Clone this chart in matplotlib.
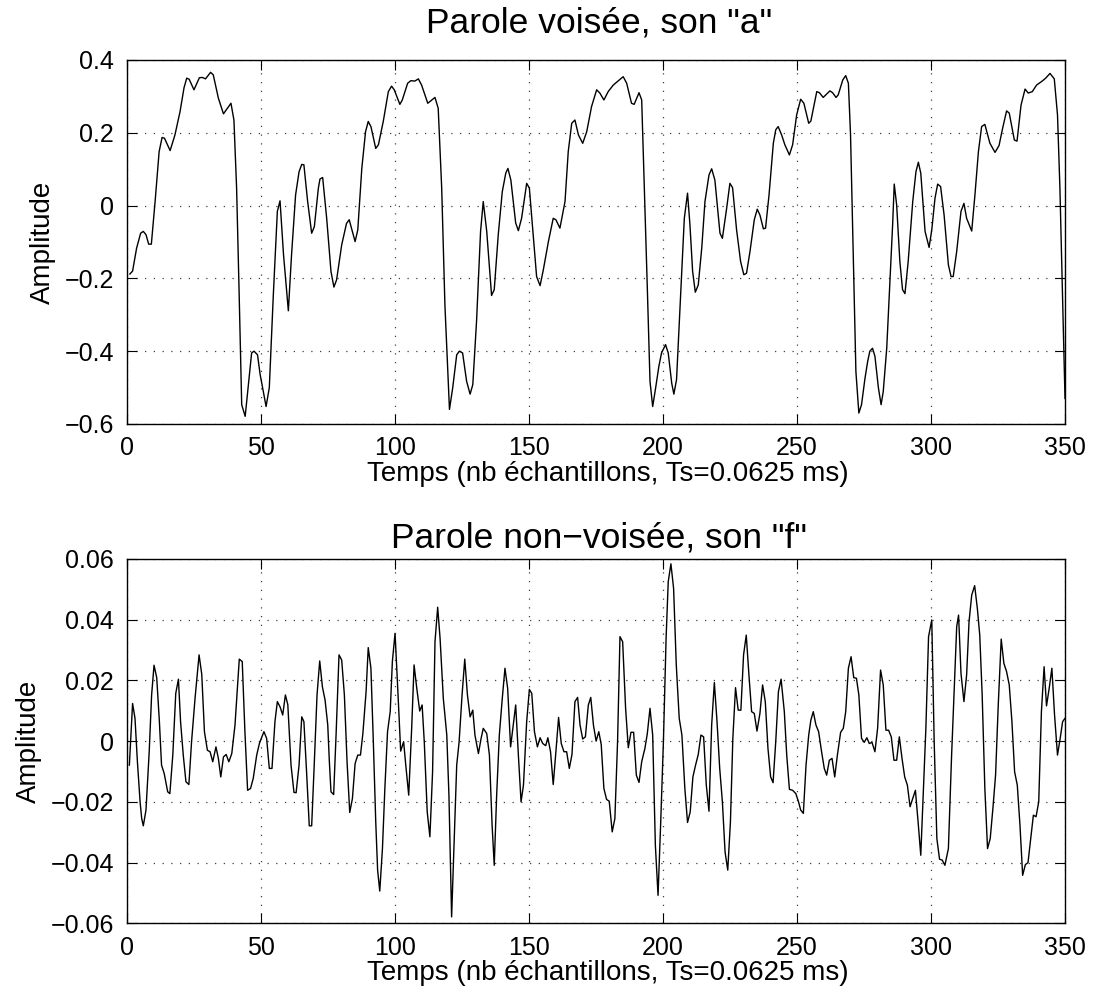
import matplotlib
matplotlib.use("Agg")
import matplotlib.pyplot as plt
from matplotlib.ticker import FixedLocator, FuncFormatter

plt.rcParams['font.family'] = ['Liberation Sans', 'DejaVu Sans']

# ---- Data: voiced "a" ----
t_voiced = [1.2, 2.2, 3.7, 5.2, 6.2, 7.2, 8.2, 9.2, 10.6, 12.1, 13.2, 14.1, 16.2, 18, 19.9, 21.4, 22.4, 23.3,
            25.1, 27.1, 28.2, 29.4, 31.3, 32.3, 34.2, 36.1, 38.9, 40, 41, 41.9, 42.9, 44.2, 45.4, 46.6, 47.5,
            48.8, 49.8, 52, 53.2, 54.7, 56.2, 57.2, 58.5, 60.3, 61.5, 63, 64.3, 65.3, 66.1, 67.5, 69, 70,
            71.5, 72.1, 73.1, 74.6, 76.2, 77.3, 78.3, 80.2, 82, 83, 85.2, 86.2, 87.7, 89.1, 90.1, 91.1, 92.9,
            93.9, 95.7, 97.6, 98.8, 99.8, 101.9, 102.8, 104.8, 106, 107.5, 108.8, 110, 112.3, 115, 116.2,
            117.5, 118.7, 120.4, 121.6, 123.1, 124.1, 125.3, 126.8, 128.1, 129.1, 130.5, 132, 133, 134.3,
            136.1, 137.1, 138.6, 140.1, 141.4, 142.2, 143.3, 145.1, 146.1, 147.3, 149.2, 150.2, 151.7, 152.9,
            154.2, 155.4, 157.3, 159.1, 160.1, 161.6, 163.5, 164.7, 166, 167.2, 168.5, 170.1, 171.6, 173.4,
            175.3, 176.5, 178, 179.6, 181.5, 185.2, 186.5, 188.3, 189.3, 191.1, 192.1, 193.1, 194.2, 195.2,
            196.2, 197.3, 198.5, 199.5, 201, 202, 203.3, 204.1, 205.1, 206.4, 208, 209.2, 210.1, 211.1,
            212.1, 213.2, 214.5, 215.7, 217.2, 218.2, 219.4, 221.3, 222.2, 223.8, 225, 226, 227.5, 229,
            230.2, 231.2, 232.5, 234.1, 235.2, 236.2, 237.5, 238.3, 239.6, 241.2, 242.1, 243, 244.3, 245.5,
            247.2, 248.4, 249.9, 251.4, 252.6, 254.4, 255.2, 257.4, 258.4, 259.8, 262.3, 263.3, 264.6, 265.4,
            267.1, 268.2, 269.2, 270, 271, 272, 273.1, 274.1, 275.4, 276.4, 277.2, 278.2, 279.1, 280.4,
            281.4, 282.2, 283.5, 284.7, 285.7, 286.3, 287.2, 288.4, 289.4, 290.3, 291.5, 293.2, 294.4,
            295.3, 296.2, 297.8, 299.3, 300.3, 301.5, 302.5, 303.6, 304.9, 306.5, 307.5, 308.3, 309.6,
            311.2, 312.3, 313.3, 315.2, 316.4, 317.7, 318.9, 320.1, 322, 323.9, 325.4, 326.6, 328.2, 329.2,
            331.1, 332.1, 333.6, 335.1, 336.3, 337.8, 339.4, 341.5, 342.8, 344.4, 346, 347.2, 348.1, 349, 350]
a_voiced = [-0.188, -0.18, -0.117, -0.076, -0.071, -0.08, -0.106, -0.106, 0.011, 0.148, 0.187, 0.185, 0.151,
            0.194, 0.258, 0.324, 0.35, 0.347, 0.318, 0.351, 0.352, 0.348, 0.366, 0.359, 0.295, 0.252, 0.281,
            0.235, 0.048, -0.227, -0.547, -0.579, -0.492, -0.405, -0.40, -0.41, -0.465, -0.552, -0.50,
            -0.245, -0.016, 0.013, -0.135, -0.289, -0.135, 0.029, 0.093, 0.113, 0.112, 0.011, -0.076,
            -0.058, 0.048, 0.073, 0.077, -0.035, -0.181, -0.224, -0.204, -0.108, -0.049, -0.039, -0.099,
            -0.067, 0.102, 0.203, 0.231, 0.217, 0.157, 0.167, 0.231, 0.313, 0.328, 0.318, 0.278, 0.29, 0.336,
            0.343, 0.342, 0.348, 0.331, 0.281, 0.297, 0.267, 0.048, -0.273, -0.56, -0.501, -0.41, -0.40,
            -0.405, -0.483, -0.518, -0.492, -0.318, -0.071, 0.011, -0.071, -0.247, -0.231, -0.08, 0.038,
            0.089, 0.102, 0.07, -0.048, -0.069, -0.035, 0.061, 0.048, -0.085, -0.195, -0.22, -0.177, -0.099,
            -0.035, -0.039, -0.062, 0.011, 0.148, 0.226, 0.235, 0.194, 0.171, 0.203, 0.272, 0.318, 0.309,
            0.29, 0.313, 0.331, 0.354, 0.336, 0.281, 0.278, 0.31, 0.29, 0.048, -0.227, -0.483, -0.552,
            -0.501, -0.442, -0.405, -0.382, -0.405, -0.488, -0.518, -0.478, -0.282, -0.035, 0.034, -0.053,
            -0.181, -0.238, -0.218, -0.117, 0.011, 0.084, 0.101, 0.07, -0.076, -0.09, -0.007, 0.061, 0.049,
            -0.067, -0.154, -0.19, -0.186, -0.126, -0.039, -0.01, -0.026, -0.064, -0.062, 0.029, 0.171,
            0.208, 0.217, 0.194, 0.167, 0.139, 0.167, 0.249, 0.292, 0.281, 0.226, 0.232, 0.313, 0.31, 0.297,
            0.315, 0.31, 0.297, 0.304, 0.345, 0.357, 0.336, 0.194, -0.135, -0.456, -0.57, -0.547, -0.474,
            -0.428, -0.40, -0.392, -0.414, -0.501, -0.547, -0.511, -0.392, -0.209, -0.053, 0.059, 0.002,
            -0.154, -0.231, -0.242, -0.154, 0.011, 0.093, 0.119, 0.089, -0.071, -0.115, -0.067, 0.02, 0.059,
            0.052, -0.026, -0.163, -0.195, -0.195, -0.126, -0.016, 0.006, -0.035, -0.07, 0.029, 0.148,
            0.217, 0.223, 0.171, 0.146, 0.165, 0.208, 0.26, 0.254, 0.18, 0.177, 0.276, 0.32, 0.309, 0.313,
            0.331, 0.342, 0.35, 0.363, 0.348, 0.249, 0.048, -0.227, -0.53]

# ---- Data: unvoiced "f" ----
t_unvoiced = [1, 2.2, 3.1, 4, 5, 5.6, 6.2, 7.2, 8.4, 9.3, 10.2, 11.2, 12.2, 13, 14, 15.3, 16.1, 17.2, 18.3,
              19.3, 20.1, 21.1, 22.1, 23.2, 24.2, 25.5, 27, 28, 29, 30.1, 31.1, 32.1, 33.3, 34.2, 35.1, 36.1,
              37.1, 38.1, 39.2, 40.4, 42, 43.1, 44.1, 45.1, 46.2, 47.2, 48.5, 49.5, 50.3, 51.2, 52.2, 53.2,
              54.2, 55.3, 56.2, 57.2, 58.2, 59.2, 60.1, 61.3, 62.4, 63.2, 64.3, 65.3, 66.1, 67.1, 68.1, 69,
              70, 71, 72, 73, 74, 75, 75.6, 76.2, 77.2, 78.1, 79.2, 80.2, 81.2, 82.2, 83.2, 84.2, 85.2, 86.2,
              87.2, 88.1, 89.3, 90.1, 91.1, 92, 92.9, 93.6, 94.4, 95.4, 96.3, 97.3, 98.3, 99.1, 100.1, 101.1,
              102.2, 103.3, 104.1, 105.2, 106.3, 107.2, 108.2, 109.3, 110.2, 111, 112.1, 113.1, 114.1, 115,
              116, 116.9, 118.1, 119.4, 120.2, 121.2, 122.1, 123.1, 124, 125.1, 126.1, 127.1, 128.1, 129.1,
              129.9, 131.2, 132.2, 133, 134.3, 135.3, 136.3, 137.1, 138, 139, 140.1, 141.1, 142.1, 143.2,
              144.2, 145.1, 146.1, 147.1, 148, 149.2, 150.2, 151.1, 152.1, 153.2, 154.2, 155.2, 156.3, 157.1,
              158.1, 159.1, 160.1, 161.1, 162.1, 163.1, 164.1, 165.1, 166.1, 167.2, 168.2, 169.1, 170.1,
              171.1, 172.2, 173.1, 174.1, 175.1, 176.1, 177, 178, 179, 180, 181.1, 182.1, 183.1, 184, 185,
              186.1, 187.1, 188.1, 189.1, 190.1, 191.1, 192.1, 193.3, 194.2, 195.2, 196.2, 197.2, 198.2,
              199.2, 200.2, 201.2, 202, 203, 204, 205, 206.1, 207.1, 208.2, 209.2, 210.2, 211.2, 212.2, 213.2,
              214.2, 215.2, 216.2, 217.2, 218.2, 219.2, 220.2, 221.2, 222.2, 223.2, 224.2, 225.2, 226.1,
              227.1, 228.1, 229.1, 230.1, 231.1, 232.1, 233.1, 234.1, 235.1, 236.2, 237.2, 238.2, 239.2,
              240.2, 241.1, 242.1, 243.1, 244.1, 245.3, 246.2, 247.2, 248.4, 249.6, 250.6, 251.4, 252.4,
              253.4, 254.4, 255.2, 256.1, 257.1, 258.1, 259.2, 260.2, 261.1, 262.1, 263.1, 264.1, 265.1,
              266.3, 267.3, 268.2, 269.2, 270.2, 271.2, 272.2, 273.1, 274.1, 275.1, 276.1, 277, 278, 279.1,
              280.1, 281.2, 282.2, 283.2, 284.2, 285.2, 286.2, 287.2, 288.2, 289.2, 290.2, 291.2, 292.2,
              293.2, 294.2, 295.2, 296.2, 297.1, 298.1, 299.1, 300.3, 301.2, 302.2, 303.2, 304.2, 305.2,
              306.5, 307.7, 308.7, 309.6, 310.3, 311.2, 312.3, 313.3, 314.2, 315.2, 316.3, 317.3, 318.2,
              319.1, 320.1, 321.1, 322.1, 323.1, 324.1, 325.1, 326.2, 327.2, 328.2, 329.2, 330.2, 331.2,
              332.2, 333.2, 334.2, 335.2, 336.2, 337.2, 338.2, 339.2, 340.2, 341.2, 342.2, 343.1, 344.1,
              345.1, 346.1, 347.2, 348.2, 349.1, 350]
a_unvoiced = [-0.0079, 0.0124, 0.0075, -0.0068, -0.02, -0.0255, -0.0279, -0.0227, -0.0035, 0.0152, 0.025,
              0.0209, 0.0064, -0.0079, -0.0107, -0.0167, -0.0173, -0.0046, 0.0157, 0.0204, 0.0064, -0.0046,
              -0.0134, -0.0143, -0.0002, 0.0141, 0.0284, 0.022, 0.0031, -0.003, -0.0035, -0.0068, -0.0019,
              -0.0057, -0.0118, -0.0052, -0.0044, -0.0068, -0.0041, 0.0053, 0.027, 0.0262, 0.0031, -0.0162,
              -0.0156, -0.0123, -0.0046, -0.0008, 0.0011, 0.0031, 0.0009, -0.009, -0.009, 0.0064, 0.013,
              0.0113, 0.0086, 0.0152, 0.012, -0.0079, -0.0169, -0.017, -0.0079, 0.008, 0.0064, -0.0101,
              -0.0279, -0.0279, -0.0068, 0.0152, 0.0264, 0.0179, 0.0135, 0.0053, -0.0068, -0.0167, -0.0176,
              0.002, 0.0284, 0.0267, 0.0152, -0.0068, -0.0235, -0.0189, -0.0074, -0.0046, -0.0046, 0.0025,
              0.0163, 0.0308, 0.024, -0.0002, -0.0266, -0.0425, -0.0494, -0.0354, -0.0156, 0.0031, 0.0097,
              0.0262, 0.0355, 0.0174, -0.0033, -0.0002, -0.0079, -0.0178, 0.0042, 0.0251, 0.0174, 0.0099,
              0.0119, -0.0002, -0.0233, -0.0315, -0.0101, 0.0327, 0.0441, 0.0338, 0.0141, 0.002, -0.0178,
              -0.0579, -0.0343, -0.0079, -0.0002, 0.0152, 0.027, 0.0152, 0.008, 0.0102, 0.002, -0.0041,
              0.0009, 0.0042, 0.0025, -0.0046, -0.0277, -0.0409, -0.0178, 0.002, 0.0141, 0.024, 0.0174,
              -0.0019, 0.0053, 0.0119, -0.0046, -0.02, -0.0145, 0.0064, 0.017, 0.0157, 0.0031, -0.0019,
              0.0011, -0.0008, -0.0015, 0.0011, -0.0035, -0.0143, -0.0035, 0.0078, -0.0008, -0.0035, -0.0035,
              -0.009, -0.0044, 0.013, 0.0144, 0.0053, 0.0007, 0.0014, 0.0119, 0.0144, 0.0053, 0.0, 0.0031,
              -0.0011, -0.0156, -0.0192, -0.0198, -0.0299, -0.0255, -0.0002, 0.0344, 0.0327, 0.0108, -0.0022,
              0.0029, 0.0029, -0.0112, -0.0136, -0.0068, -0.0024, 0.0025, 0.0108, 0.002, -0.0343, -0.0508,
              -0.0266, -0.0002, 0.0338, 0.0525, 0.0584, 0.0503, 0.0251, 0.0075, 0.002, -0.0156, -0.0268,
              -0.0233, -0.0118, -0.0079, -0.0044, 0.002, 0.0014, -0.0145, -0.0231, 0.0053, 0.0193, 0.0064,
              -0.009, -0.02, -0.0365, -0.0425, -0.0266, 0.0009, 0.0176, 0.0102, 0.0102, 0.0284, 0.0349,
              0.0218, 0.0097, 0.0091, 0.0033, 0.0091, 0.0185, 0.013, -0.0024, -0.0118, -0.0137, -0.0002,
              0.0163, 0.0204, 0.0097, -0.0046, -0.0159, -0.0162, -0.0173, -0.02, -0.0227, -0.0238, -0.0079,
              0.002, 0.0069, 0.0097, 0.0053, 0.0031, -0.0035, -0.009, -0.0112, -0.0063, -0.0057, -0.0118,
              -0.0046, 0.0029, 0.0042, 0.0097, 0.024, 0.0278, 0.0209, 0.0207, 0.0152, 0.0009, -0.0004,
              0.0011, -0.0008, -0.0004, -0.0035, 0.0042, 0.0234, 0.0185, 0.0036, 0.0036, 0.0014, -0.0063,
              -0.0063, 0.0014, -0.0057, -0.0118, -0.0145, -0.0216, -0.0189, -0.0162, -0.0266, -0.0376,
              -0.0178, 0.0042, 0.0344, 0.0399, -0.0002, -0.0321, -0.0389, -0.0392, -0.0409, -0.0354, -0.0046,
              0.0174, 0.0377, 0.0415, 0.0223, 0.013, 0.0218, 0.0393, 0.0481, 0.0512, 0.0437, 0.0349, 0.0152,
              -0.0156, -0.0354, -0.0321, -0.0222, -0.0112, 0.0119, 0.0336, 0.0256, 0.0229, 0.0185, 0.0064,
              -0.0101, -0.0145, -0.0277, -0.0442, -0.0407, -0.04, -0.0321, -0.0244, -0.0249, -0.02, 0.0097,
              0.0245, 0.0116, 0.0174, 0.024, 0.0086, -0.0046, 0.0009, 0.0064, 0.0075]

x_ticks = [0, 50, 100, 150, 200, 250, 300, 350]
y_ticks_top = [-0.6, -0.4, -0.2, 0, 0.2, 0.4]
y_ticks_bottom = [-0.06, -0.04, -0.02, 0, 0.02, 0.04, 0.06]

title_top = 'Parole voisée, son "a"'
title_bottom = 'Parole non\u2212voisée, son "f"'
xlabel = 'Temps (nb échantillons, Ts=0.0625 ms)'
ylabel = 'Amplitude'


def fmt(v, pos):
    if abs(v) < 1e-12:
        return '0'
    s = ('%g' % v)
    return s.replace('-', '\u2212')


W, H = 1094, 999
fig = plt.figure(figsize=(W / 100, H / 100), dpi=100)
ax1 = fig.add_axes([0.1158, 0.5756, 0.8577, 0.3644])
ax2 = fig.add_axes([0.1158, 0.0758, 0.8577, 0.3647])

for ax, t, a, yt, ttl, ty in [(ax1, t_voiced, a_voiced, y_ticks_top, title_top, 23),
                              (ax2, t_unvoiced, a_unvoiced, y_ticks_bottom, title_bottom, 538)]:
    ax.plot(t, a, color='black', linewidth=1.0)
    ax.set_xlim(x_ticks[0], x_ticks[-1])
    ax.set_ylim(yt[0], yt[-1])
    ax.xaxis.set_major_locator(FixedLocator(x_ticks))
    ax.yaxis.set_major_locator(FixedLocator(yt))
    ax.yaxis.set_major_formatter(FuncFormatter(fmt))
    ax.grid(True, color='#404040', linestyle=(0, (1, 6)), linewidth=0.9)
    ax.tick_params(direction='in', length=7, width=0.8, top=True, right=True,
                   labelsize=18, pad=9, colors='black')
    for sp in ax.spines.values():
        sp.set_linewidth(1.0)
    fig.text(0.5 * (0.1158 * 2 + 0.8577) + 0.003, 1 - ty / H, ttl, fontsize=25.5,
             ha='center', va='center')
    ax.set_xlabel(xlabel, fontsize=20, labelpad=0.5)
    ax.xaxis.label.set_x(0.513)
    ax.set_ylabel(ylabel, fontsize=20, labelpad=6.5)

fig.savefig('out.png', dpi=100)
